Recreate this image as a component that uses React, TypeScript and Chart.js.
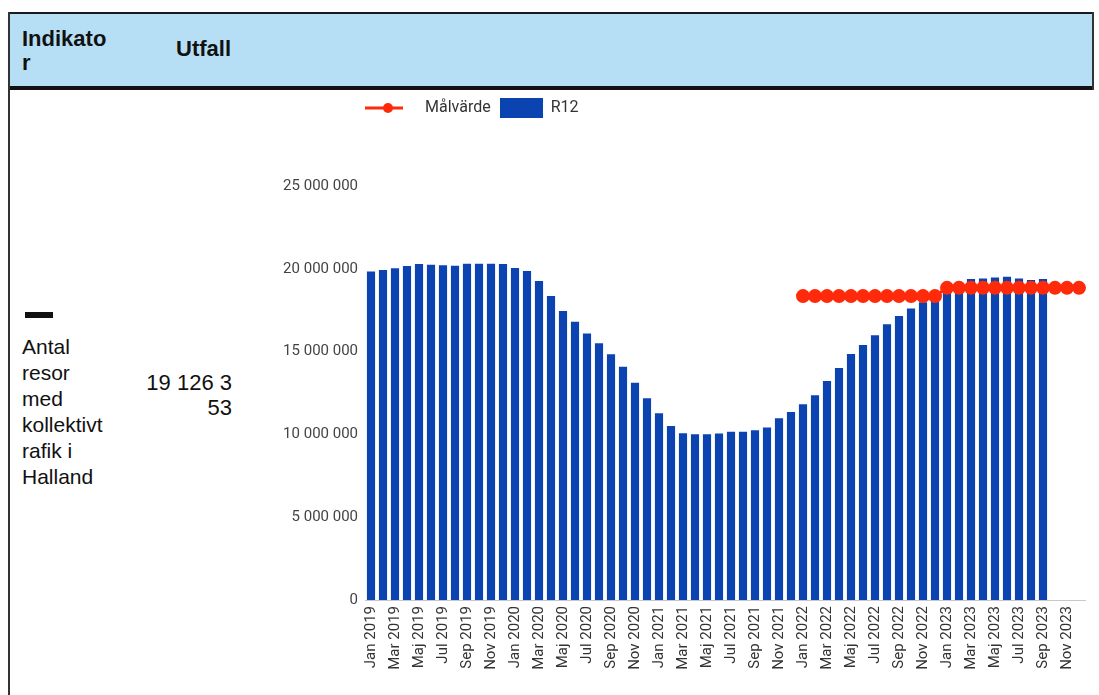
import React, { useEffect, useRef } from 'react';
import { Chart, registerables } from 'chart.js';

Chart.register(...registerables);

const MONTHS = ['Jan', 'Feb', 'Mar', 'Apr', 'Maj', 'Jun', 'Jul', 'Aug', 'Sep', 'Okt', 'Nov', 'Dec'];
const YEARS = [2019, 2020, 2021, 2022, 2023];
const categories = YEARS.flatMap((y) => MONTHS.map((m) => `${m} ${y}`));

// R12 (rolling 12 months), Jan 2019 – Sep 2023
const r12Values = [
  19830000, 19930000, 20030000, 20170000, 20290000, 20250000, 20210000, 20190000, 20310000, 20310000, 20310000, 20290000,
  20050000, 19870000, 19260000, 18360000, 17450000, 16810000, 16100000, 15500000, 14840000, 14090000, 13120000, 12180000,
  11270000, 10510000, 10070000, 10010000, 10010000, 10050000, 10160000, 10160000, 10250000, 10410000, 10970000, 11350000,
  11820000, 12360000, 13230000, 14010000, 14860000, 15400000, 15980000, 16650000, 17150000, 17610000, 17980000, 18250000,
  18850000, 19180000, 19380000, 19420000, 19480000, 19520000, 19420000, 19320000, 19380000,
];

// Målvärde, Jan 2022 – Dec 2023
const target2022 = 18350000;
const target2023 = 18850000;
const targetValues: (number | null)[] = [
  ...Array(36).fill(null),
  ...Array(12).fill(target2022),
  ...Array(12).fill(target2023),
];

const yTickValues = [0, 5000000, 10000000, 15000000, 20000000, 25000000];

const BLUE = '#0b44b0';
const RED = '#ff2a0a';

const fmt = (v: number) => String(Math.round(v)).replace(/\B(?=(\d{3})+(?!\d))/g, ' ');

function makeLineMarker() {
  const c = document.createElement('canvas');
  c.width = 62;
  c.height = 14;
  const ctx = c.getContext('2d')!;
  ctx.strokeStyle = RED;
  ctx.lineWidth = 3;
  ctx.beginPath();
  ctx.moveTo(0, 7);
  ctx.lineTo(38, 7);
  ctx.stroke();
  ctx.fillStyle = RED;
  ctx.beginPath();
  ctx.arc(23, 7, 5, 0, Math.PI * 2);
  ctx.fill();
  return c;
}

function makeBoxMarker() {
  const c = document.createElement('canvas');
  c.width = 43;
  c.height = 20;
  const ctx = c.getContext('2d')!;
  ctx.fillStyle = BLUE;
  ctx.fillRect(0, 0, 43, 20);
  return c;
}

function ChartBox() {
  const ref = useRef<HTMLCanvasElement>(null);
  useEffect(() => {
    if (!ref.current) return;
    const lineImg = makeLineMarker();
    const boxImg = makeBoxMarker();
    const tickFont = { family: 'Roboto', size: 15 };
    const chart = new Chart(ref.current, {
      type: 'bar',
      data: {
        labels: categories,
        datasets: [
          {
            type: 'line',
            label: 'Målvärde',
            data: targetValues,
            borderColor: RED,
            backgroundColor: RED,
            borderWidth: 3,
            pointRadius: 7,
            pointBorderWidth: 0,
            pointBackgroundColor: RED,
            spanGaps: false,
          } as any,
          {
            type: 'bar',
            label: 'R12',
            data: r12Values,
            backgroundColor: BLUE,
            borderWidth: 0,
            barPercentage: 0.85,
          },
        ],
      },
      options: {
        animation: false,
        responsive: true,
        maintainAspectRatio: false,
        layout: { padding: { top: 0, right: 10, bottom: 0, left: 0 } },
        plugins: {
          tooltip: { enabled: false },
          legend: {
            display: true,
            position: 'top',
            align: 'start',
            fullSize: false,
            labels: {
              usePointStyle: true,
              pointStyleWidth: 42,
              padding: 10,
              color: '#333',
              font: { family: 'Roboto', size: 16 },
              generateLabels: (c: any) => {
                const items = (Chart.defaults.plugins.legend.labels as any).generateLabels(c);
                items[0].pointStyle = lineImg;
                items[1].pointStyle = boxImg;
                return items;
              },
            },
          },
          title: {
            display: true,
            text: ' ',
            weight: 500,
            font: { size: 10 },
            padding: { top: 24, bottom: 24 },
          } as any,
        },
        scales: {
          x: {
            grid: { display: false, drawTicks: false },
            border: { display: true, color: '#c8c8c8', width: 1 },
            ticks: {
              autoSkip: false,
              minRotation: 90,
              maxRotation: 90,
              padding: 6,
              color: '#333',
              font: tickFont,
              callback: (_v: any, i: number) => (i % 2 === 0 ? categories[i] : ''),
            },
            afterFit: (s: any) => {
              s.height = 95;
              s.paddingLeft = 0;
              s.paddingRight = 0;
            },
          },
          y: {
            min: 0,
            max: 25000000,
            grid: { display: false, drawTicks: false },
            border: { display: false },
            afterBuildTicks: (s: any) => {
              s.ticks = yTickValues.map((v) => ({ value: v }));
            },
            ticks: {
              padding: 7,
              color: '#444',
              font: tickFont,
              callback: (v: any) => fmt(Number(v)),
            },
            afterFit: (s: any) => {
              s.width = 105;
            },
          },
        },
      },
    });
    return () => chart.destroy();
  }, []);
  return (
    <div style={{ position: 'absolute', left: 260, top: 90, width: 835, height: 605 }}>
      <canvas ref={ref} />
    </div>
  );
}

export default function App() {
  const headFont: React.CSSProperties = {
    position: 'absolute',
    fontFamily: '"Liberation Sans", Arial, sans-serif',
    fontWeight: 'bold',
    fontSize: 22,
    lineHeight: '24px',
    color: '#111',
  };
  const bodyFont: React.CSSProperties = {
    position: 'absolute',
    fontFamily: '"Liberation Sans", Arial, sans-serif',
    fontSize: 21,
    color: '#111',
  };
  return (
    <div
      style={{
        position: 'absolute',
        left: 0,
        top: 0,
        width: 1099,
        height: 695,
        overflow: 'hidden',
        background: '#fff',
      }}
    >
      <div style={{ position: 'absolute', left: 8, top: 12, width: 1086, height: 2, background: '#1a1a1a' }} />
      <div style={{ position: 'absolute', left: 8, top: 14, width: 1086, height: 72, background: '#b6dff5' }} />
      <div style={{ position: 'absolute', left: 8, top: 86, width: 1086, height: 4, background: '#111' }} />
      <div style={{ position: 'absolute', left: 8, top: 12, width: 2, height: 683, background: '#333' }} />
      <div style={{ position: 'absolute', left: 1092, top: 12, width: 2, height: 78, background: '#333' }} />
      <div style={{ ...headFont, left: 22, top: 27 }}>
        Indikato
        <br />r
      </div>
      <div style={{ ...headFont, left: 176, top: 37 }}>Utfall</div>

      <div style={{ position: 'absolute', left: 25, top: 312, width: 28, height: 6, background: '#111' }} />
      <div style={{ ...bodyFont, left: 22, top: 334, lineHeight: '26px' }}>
        Antal
        <br />
        resor
        <br />
        med
        <br />
        kollektivt
        <br />
        rafik i
        <br />
        Halland
      </div>
      <div style={{ ...bodyFont, left: 100, top: 370, width: 132, textAlign: 'right', lineHeight: '25px', fontSize: 22 }}>
        19 126 3
        <br />
        53
      </div>
      <ChartBox />
    </div>
  );
}
